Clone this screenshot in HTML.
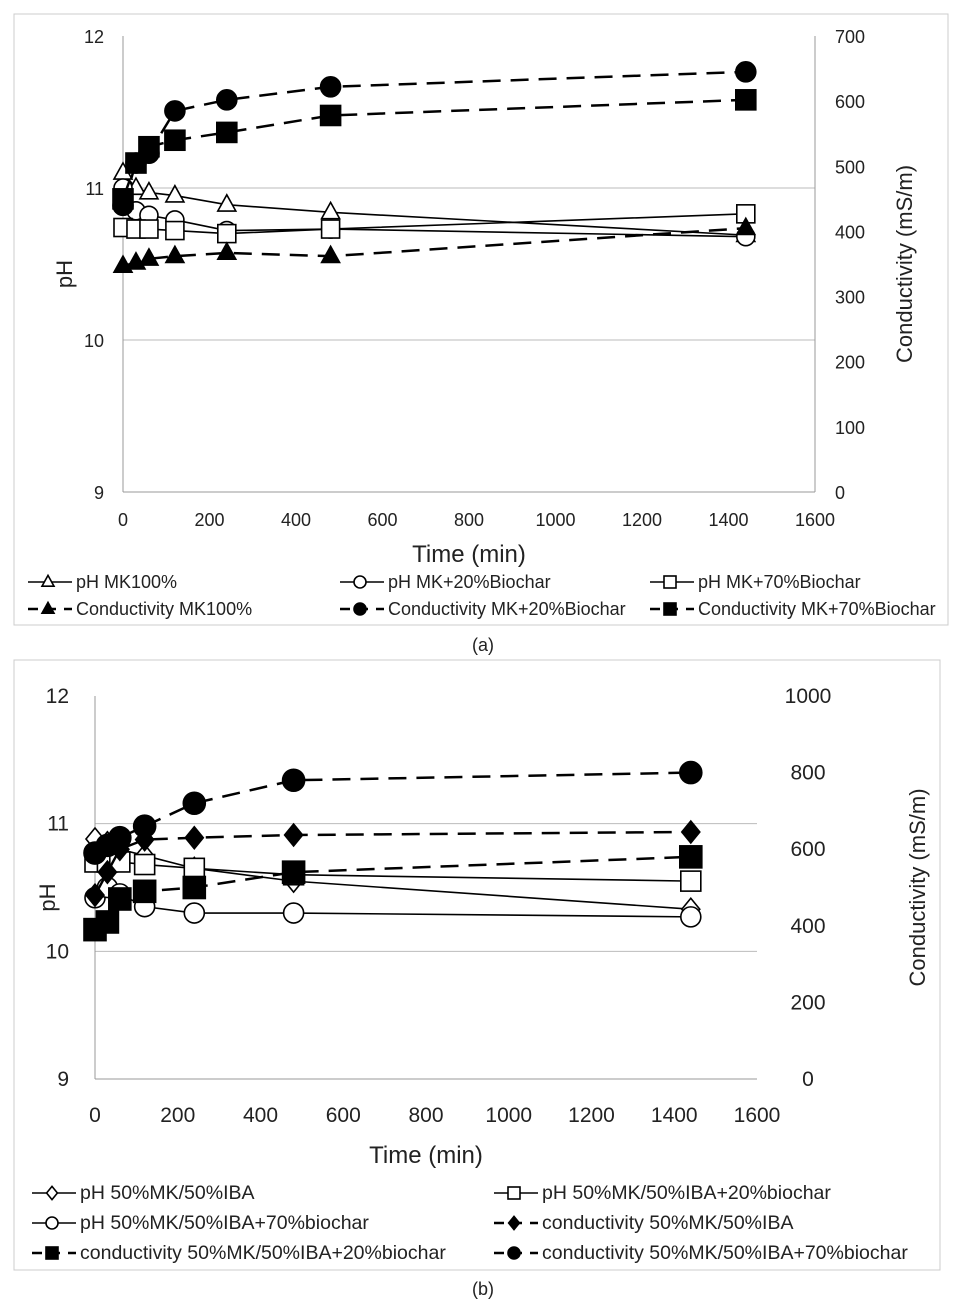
<!DOCTYPE html>
<html><head><meta charset="utf-8"><style>
body{margin:0;background:#fff;font-family:"Liberation Sans",sans-serif}
svg{display:block}
</style></head><body>
<svg id="s" width="967" height="1313" xmlns="http://www.w3.org/2000/svg" font-family="Liberation Sans, sans-serif"></svg>
<script>
const timesA=[0,30,60,120,240,480,1440];
const phMK100=[11.1,11.0,10.97,10.95,10.89,10.84,10.69];
const phMK20=[11.0,10.85,10.82,10.79,10.72,10.73,10.68];
const phMK70=[10.74,10.73,10.73,10.72,10.70,10.73,10.83];
const condMK100=[347,352,358,362,367,362,405];
const condMK20=[440,505,520,585,602,622,645];
const condMK70=[450,505,530,540,552,578,602];
const timesB=[0,30,60,120,240,480,1440];
const phB50=[10.88,10.85,10.8,10.75,10.65,10.55,10.33];
const phB20=[10.7,10.7,10.7,10.68,10.65,10.6,10.55];
const phB70=[10.42,10.5,10.45,10.35,10.3,10.3,10.27];
const condB50=[480,540,600,625,630,637,645];
const condB20=[390,410,470,490,500,540,580];
const condB70=[590,610,630,660,720,780,800];
const xTicks=[0,200,400,600,800,1000,1200,1400,1600];
const phTicks=[9,10,11,12];
const condTicksA=[0,100,200,300,400,500,600,700];
const condTicksB=[0,200,400,600,800,1000];

const S=document.getElementById('s');const NS='http://www.w3.org/2000/svg';
function el(t,a,p){const e=document.createElementNS(NS,t);for(const k in a)e.setAttribute(k,a[k]);(p||S).appendChild(e);return e;}
function txt(x,y,s,sz,anchor,p,extra){const e=el('text',Object.assign({x:x,y:y,'font-size':sz,'text-anchor':anchor||'start',fill:'#222'},extra||{}),p);e.textContent=s;return e;}
function marker(g,shape,x,y,fill,r){
  let e;
  if(shape==='tri')e=el('polygon',{points:`${x},${y-r*1.1} ${x-r},${y+r*0.7} ${x+r},${y+r*0.7}`},g);
  else if(shape==='circ')e=el('circle',{cx:x,cy:y,r:r},g);
  else if(shape==='sq')e=el('rect',{x:x-r,y:y-r,width:2*r,height:2*r},g);
  else e=el('polygon',{points:`${x},${y-r*1.1} ${x+r*0.9},${y} ${x},${y+r*1.1} ${x-r*0.9},${y}`},g);
  e.setAttribute('fill',fill?'#000':'#fff');e.setAttribute('stroke','#000');e.setAttribute('stroke-width',1.6);
  
  
}
function chart(cfg){
  const g=el('g',{});
  
  
  el('rect',{x:cfg.box[0],y:cfg.box[1],width:cfg.box[2],height:cfg.box[3],fill:'none',stroke:'#ccc'},g);
  const X=t=>cfg.x0+(t/1600)*(cfg.x1-cfg.x0);
  const YP=v=>cfg.yb-(v-9)/3*(cfg.yb-cfg.yt);
  const YC=v=>cfg.yb-v/cfg.cmax*(cfg.yb-cfg.yt);
  phTicks.forEach(v=>{if(v>9&&v<12)el('line',{x1:cfg.x0,x2:cfg.x1,y1:YP(v),y2:YP(v),stroke:'#bbb'},g);
    txt(cfg.x0-cfg.lpad,YP(v)+7,String(v),cfg.fs,'end',g);});
  el('line',{x1:cfg.x0,x2:cfg.x1,y1:cfg.yb,y2:cfg.yb,stroke:'#999'},g);
  el('line',{x1:cfg.x0,x2:cfg.x0,y1:cfg.yt,y2:cfg.yb,stroke:'#999'},g);
  if(cfg.rightAxis)el('line',{x1:cfg.x1,x2:cfg.x1,y1:cfg.yt,y2:cfg.yb,stroke:'#999'},g);
  cfg.cticks.forEach(v=>txt(cfg.rx,YC(v)+7,String(v),cfg.fs,cfg.ranchor,g));
  xTicks.forEach(v=>txt(X(v),cfg.yb+cfg.xpad,String(v),cfg.fs,'middle',g));
  txt((cfg.x0+cfg.x1)/2,cfg.yb+cfg.xtitle,'Time (min)',24,'middle',g);
  txt(0,0,'pH',22,'middle',g,{transform:`translate(${cfg.phx},${(cfg.yt+cfg.yb)/2+10}) rotate(-90)`});
  txt(0,0,'Conductivity (mS/m)',22,'middle',g,{transform:`translate(${cfg.cx},${(cfg.yt+cfg.yb)/2}) rotate(-90)`});
  cfg.series.forEach(s=>{
    const sg=el('g',{},g);
    
    
    const Y=s.cond?YC:YP;
    const pts=cfg.times.map((t,i)=>X(t)+','+Y(s.vals[i])).join(' ');
    el('polyline',{points:pts,fill:'none',stroke:'#000','stroke-width':s.cond?2.5:1.6,'stroke-dasharray':s.cond?'18,10':'none'},sg);
    cfg.times.forEach((t,i)=>marker(sg,s.shape,X(t),Y(s.vals[i]),s.fill,s.r));
  });
  cfg.series.forEach((s,i)=>{
    const [lx,ly]=cfg.leg[i];
    const lg=el('g',{},g);
    
    
    el('line',{x1:lx,x2:lx+44,y1:ly,y2:ly,stroke:'#000','stroke-width':s.cond?2.5:1.6,'stroke-dasharray':s.cond?'10,8':'none'},lg);
    marker(lg,s.shape,lx+20,ly,s.fill,6);
    txt(lx+48,ly+6,s.label,cfg.lfs,'start',lg);
  });
}
chart({name:'chart-a',box:[14,14,934,611],x0:123,x1:815,yt:36,yb:492,cmax:700,cticks:condTicksA,rightAxis:true,
 rx:835,ranchor:'start',lpad:19,fs:18,xpad:34,xtitle:70,phx:72,cx:912,times:timesA,lfs:18,
 series:[
  {label:'pH MK100%',vals:phMK100,shape:'tri',fill:false,cond:false,r:9},
  {label:'pH MK+20%Biochar',vals:phMK20,shape:'circ',fill:false,cond:false,r:9},
  {label:'pH MK+70%Biochar',vals:phMK70,shape:'sq',fill:false,cond:false,r:9},
  {label:'Conductivity MK100%',vals:condMK100,shape:'tri',fill:true,cond:true,r:9},
  {label:'Conductivity MK+20%Biochar',vals:condMK20,shape:'circ',fill:true,cond:true,r:10},
  {label:'Conductivity MK+70%Biochar',vals:condMK70,shape:'sq',fill:true,cond:true,r:10}],
 leg:[[28,582],[340,582],[650,582],[28,609],[340,609],[650,609]]});
chart({name:'chart-b',box:[14,660,926,610],x0:95,x1:757,yt:696,yb:1079,cmax:1000,cticks:condTicksB,rightAxis:false,
 rx:808,ranchor:'middle',lpad:26,fs:21,xpad:43,xtitle:84,phx:55,cx:925,times:timesB,lfs:19.5,
 series:[
  {label:'pH 50%MK/50%IBA',vals:phB50,shape:'dia',fill:false,cond:false,r:10},
  {label:'pH 50%MK/50%IBA+20%biochar',vals:phB20,shape:'sq',fill:false,cond:false,r:10},
  {label:'pH 50%MK/50%IBA+70%biochar',vals:phB70,shape:'circ',fill:false,cond:false,r:10},
  {label:'conductivity 50%MK/50%IBA',vals:condB50,shape:'dia',fill:true,cond:true,r:10},
  {label:'conductivity 50%MK/50%IBA+20%biochar',vals:condB20,shape:'sq',fill:true,cond:true,r:11},
  {label:'conductivity 50%MK/50%IBA+70%biochar',vals:condB70,shape:'circ',fill:true,cond:true,r:11}],
 leg:[[32,1193],[494,1193],[32,1223],[494,1223],[32,1253],[494,1253]]});
const ca=txt(483,651,'(a)',18,'middle');
const cb=txt(483,1295,'(b)',18,'middle');
</script>
</body></html>
